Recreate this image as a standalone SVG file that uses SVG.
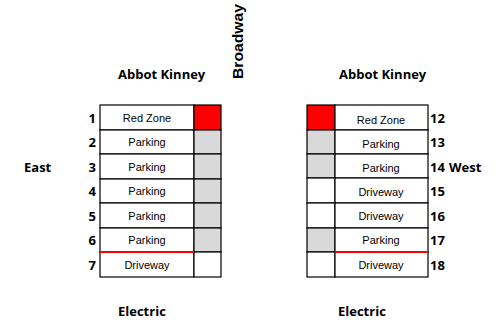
<svg xmlns="http://www.w3.org/2000/svg" width="501" height="323" viewBox="0 0 501 323">
<style>
.b{font-family:"Open Sans","Liberation Sans",sans-serif;font-weight:bold;font-size:13px;fill:#000}
.n{font-family:"Open Sans","Liberation Sans",sans-serif;font-weight:bold;font-size:13px;fill:#000}
.bw{font-family:"Liberation Sans",Arial,sans-serif;font-weight:bold;font-size:14px;fill:#000}
.c{font-family:"Liberation Sans",Arial,sans-serif;font-size:11px;fill:#000;text-anchor:middle}
.cell{fill:#fff;stroke:#000;stroke-width:1.2}
.red{fill:#f00;stroke:#000;stroke-width:1.2}
.gray{fill:#d9d9d9;stroke:#000;stroke-width:1.2}
.rl{stroke:#f00;stroke-width:2}
</style>
<rect width="501" height="323" fill="#fff"/>
<g id="labels">
<text class="b" x="118" y="79">Abbot Kinney</text>
<text class="b" x="339" y="79">Abbot Kinney</text>
<text class="bw" transform="translate(243,79) rotate(-90)" textLength="75" lengthAdjust="spacingAndGlyphs">Broadway</text>
<text class="b" x="24" y="172">East</text>
<text class="b" x="449" y="172">West</text>
<text class="b" x="118" y="316">Electric</text>
<text class="b" x="338" y="316">Electric</text>
</g>
<g id="left-block">
<rect class="cell" x="100" y="105" width="94" height="25"/>
<rect class="red" x="194" y="105" width="27" height="25"/>
<rect class="cell" x="100" y="130" width="94" height="24"/>
<rect class="gray" x="194" y="130" width="27" height="24"/>
<rect class="cell" x="100" y="154" width="94" height="25"/>
<rect class="gray" x="194" y="154" width="27" height="25"/>
<rect class="cell" x="100" y="179" width="94" height="24"/>
<rect class="gray" x="194" y="179" width="27" height="24"/>
<rect class="cell" x="100" y="203" width="94" height="25"/>
<rect class="gray" x="194" y="203" width="27" height="25"/>
<rect class="cell" x="100" y="228" width="94" height="24"/>
<rect class="gray" x="194" y="228" width="27" height="24"/>
<rect class="cell" x="100" y="252" width="94" height="25"/>
<rect class="cell" x="194" y="252" width="27" height="25"/>
<line class="rl" x1="100" y1="252" x2="194" y2="252"/>
<text class="c" x="147" y="122">Red Zone</text>
<text class="c" x="147" y="146">Parking</text>
<text class="c" x="147" y="171">Parking</text>
<text class="c" x="147" y="195">Parking</text>
<text class="c" x="147" y="220">Parking</text>
<text class="c" x="147" y="244">Parking</text>
<text class="c" x="147" y="269">Driveway</text>
<g class="n" text-anchor="end">
<text x="96" y="123">1</text><text x="96" y="147">2</text><text x="96" y="172">3</text><text x="96" y="196">4</text><text x="96" y="221">5</text><text x="96" y="245">6</text><text x="96" y="270">7</text>
</g>
</g>
<g id="right-block">
<rect class="red" x="307" y="105" width="28" height="25"/>
<rect class="cell" x="335" y="105" width="93" height="25"/>
<rect class="gray" x="307" y="130" width="28" height="24"/>
<rect class="cell" x="335" y="130" width="93" height="24"/>
<rect class="gray" x="307" y="154" width="28" height="24"/>
<rect class="cell" x="335" y="154" width="93" height="24"/>
<rect class="cell" x="307" y="178" width="28" height="25"/>
<rect class="cell" x="335" y="178" width="93" height="25"/>
<rect class="cell" x="307" y="203" width="28" height="25"/>
<rect class="cell" x="335" y="203" width="93" height="25"/>
<rect class="gray" x="307" y="228" width="28" height="24"/>
<rect class="cell" x="335" y="228" width="93" height="24"/>
<rect class="cell" x="307" y="252" width="28" height="25"/>
<rect class="cell" x="335" y="252" width="93" height="25"/>
<line class="rl" x1="335" y1="252" x2="428" y2="252"/>
<text class="c" x="381" y="124">Red Zone</text>
<text class="c" x="381" y="148">Parking</text>
<text class="c" x="381" y="172">Parking</text>
<text class="c" x="381" y="196">Driveway</text>
<text class="c" x="381" y="220">Driveway</text>
<text class="c" x="381" y="244">Parking</text>
<text class="c" x="381" y="269">Driveway</text>
<g class="n">
<text x="430" y="123">12</text><text x="430" y="147">13</text><text x="430" y="172">14</text><text x="430" y="196">15</text><text x="430" y="221">16</text><text x="430" y="245">17</text><text x="430" y="270">18</text>
</g>
</g>
</svg>
